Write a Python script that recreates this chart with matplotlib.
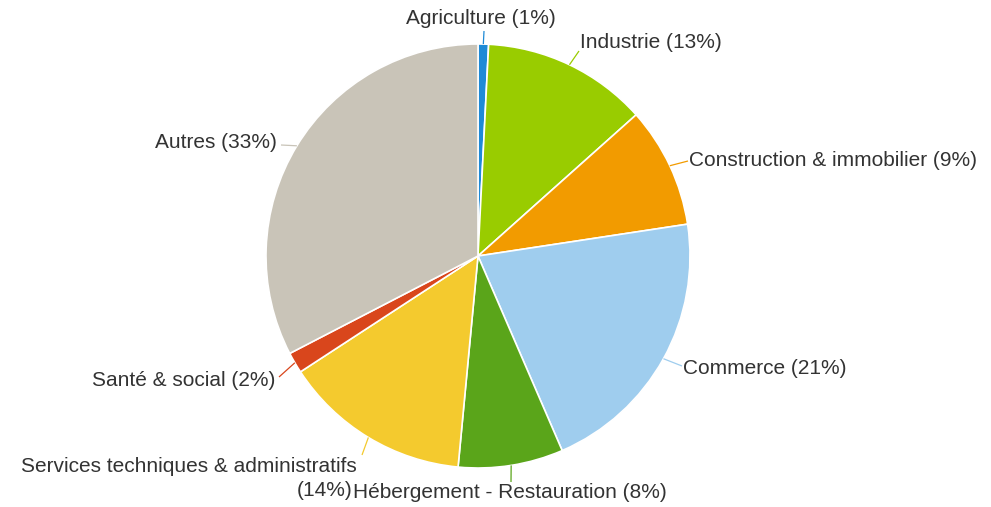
import numpy as np
import matplotlib
matplotlib.use("Agg")
import matplotlib.pyplot as plt

# shares by sector (%)
sectors = ["Agriculture", "Industrie", "Construction & immobilier", "Commerce",
           "Hébergement - Restauration", "Services techniques & administratifs",
           "Santé & social", "Autres"]
shares = [0.8, 12.6, 9.2, 20.9, 8.0, 14.3, 1.6, 32.6]
colors = ["#1e8ad6", "#99cc00", "#f29b00", "#9fcdee",
          "#5aa51a", "#f4ca2e", "#d9461c", "#c9c4b8"]

W, H = 991, 507
cx, cy, r = 478, 256, 212

# label layout in pixel coords: (text x, text y, ha, leader end x, leader end y)
label_pos = [
    (481, 19, "center", 484, 31),
    (580, 43, "left", 579, 51),
    (689, 160, "left", 688, 161),
    (683, 368, "left", 682, 366),
    (353, 493, "left", 511, 482),
    (357, 466, "right", 362, 455),
    (275, 380, "right", 279, 377),
    (277, 143, "right", 281, 145),
]

plt.rcParams["font.family"] = ["Liberation Sans", "DejaVu Sans"]
fig = plt.figure(figsize=(W / 100, H / 100), dpi=100)
ax = fig.add_axes([0, 0, 1, 1])

wedges, _ = ax.pie(shares, colors=colors, startangle=90, counterclock=False,
                   center=(cx, H - cy), radius=r, frame=True,
                   wedgeprops=dict(edgecolor="white", linewidth=1.2))
ax.set_xlim(0, W)
ax.set_ylim(0, H)
ax.set_aspect("auto")
ax.axis("off")

fs = 15
for i, w in enumerate(wedges):
    ang = np.deg2rad((w.theta1 + w.theta2) / 2)
    x0 = cx + r * np.cos(ang)
    y0 = (H - cy) + r * np.sin(ang)
    tx, ty, ha, lx, ly = label_pos[i]
    ax.plot([x0, lx], [y0, H - ly], color=colors[i], lw=0.9, solid_capstyle="butt")
    pct = f"({shares[i]:.0f}%)"
    if i == 5:
        ax.text(tx, H - ty, sectors[i], ha="right", va="center", fontsize=fs, color="#333333")
        ax.text(tx - 4, H - 490, pct, ha="right", va="center", fontsize=fs, color="#333333")
    else:
        ax.text(tx, H - ty, f"{sectors[i]} {pct}", ha=ha, va="center",
                fontsize=fs, color="#333333")

fig.savefig("out.png", dpi=100)
